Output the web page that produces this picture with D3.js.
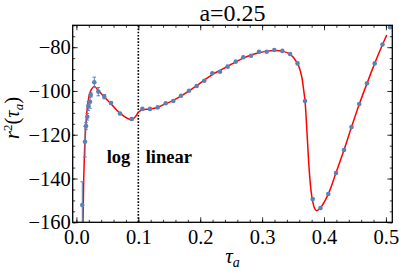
<!DOCTYPE html>
<html><head><meta charset="utf-8">
<script src="https://cdn.jsdelivr.net/npm/d3@7"></script>
<style>
body{margin:0;background:#fff}
svg{display:block}
</style>
</head><body>
<svg id="c" width="399" height="271"></svg>
<script>
// ---- data ----
const title = "a=0.25";
// log-region samples (with error bars)
const logTau = [0.0095, 0.0139, 0.0155, 0.0176, 0.0192, 0.0220, 0.0231, 0.0289, 0.0354, 0.0451, 0.0559, 0.0704, 0.0893];
const logR2  = [-152.1, -123.2, -116.0, -111.8, -106.9, -104.9, -101.8, -96.0, -100.3, -102.6, -105.5, -110.3, -112.8];
const logErr = [10.6, 7.0, 1.5, 1.5, 2.0, 3.0, 1.0, 2.3, 1.9, 1.0, 0.6, 0.5, 0.5];
// linear-region samples
const linTau = [0.1065,0.1189,0.1313,0.1443,0.1565,0.1690,0.1819,0.1943,0.2066,0.2195,0.2320,0.2444,0.2574,0.2696,0.2821,0.2950,0.3074,0.3197,0.3326,0.3451,0.3572,0.3693,0.3817,0.3943,0.4069,0.4194,0.4323,0.4444,0.4569,0.4695,0.4819,0.4945,0.5066];
const linR2  = [-108.2,-108.2,-107.5,-105.6,-104.6,-102.2,-99.9,-97.7,-95.3,-91.9,-91.2,-88.9,-86.6,-84.6,-83.9,-82.1,-82.1,-81.3,-81.7,-83.1,-87.4,-104.6,-149.4,-153.5,-147.1,-137.5,-127.0,-116.5,-106.0,-96.5,-87.4,-78.8,-70.9];
// fitted curve (red), log part and linear part
const fitLogTau = [0.0105, 0.0118, 0.0131, 0.0144, 0.0166, 0.0187, 0.0225, 0.0289, 0.0354, 0.0451, 0.0559, 0.0704, 0.0893, 0.1003];
const fitLogR2  = [-163, -140, -127.5, -120, -110.5, -105.2, -100.3, -98.0, -99.8, -102.8, -105.9, -110.2, -113.1, -109.6];
const fitLinTau = [0.1003,0.1065,0.1189,0.1313,0.1443,0.1565,0.1690,0.1819,0.1943,0.2066,0.2195,0.2320,0.2444,0.2574,0.2696,0.2821,0.2950,0.3074,0.3197,0.3326,0.3451,0.3572,0.3640,0.3666,0.3693,0.3721,0.3758,0.3790,0.3817,0.3850,0.3882,0.3943,0.4069,0.4194,0.4323,0.4444,0.4569,0.4695,0.4819,0.4945,0.5013];
const fitLinR2  = [-109.6,-108.6,-108.2,-107.4,-105.8,-104.3,-102.3,-100.0,-97.6,-95.0,-92.5,-90.6,-88.7,-86.7,-85.0,-83.6,-82.5,-81.8,-81.5,-81.8,-83.2,-87.4,-93.5,-98.5,-104.6,-117,-135,-145.5,-150.5,-153.8,-154.7,-153.3,-147.1,-137.3,-127.0,-116.5,-106.1,-96.5,-87.4,-78.8,-74.4];
const divider = 0.1;
const xMajor = [0, 0.1, 0.2, 0.3, 0.4, 0.5];
const xMajorLabels = ["0.0","0.1","0.2","0.3","0.4","0.5"];
const xMinor = d3.range(0, 0.511, 0.02);
const yMajor = [-160, -140, -120, -100, -80];
const yMinor = d3.range(-160, -69, 5);

// ---- layout ----
const FONT = "'Liberation Serif','Times New Roman',Times,serif";
const L = 72.7, R = 392.3, T = 25.3, B = 222.3;
const svg = d3.select("#c");
const x = d3.scaleLinear().domain([-0.006, 0.5103]).range([L, R]);
const y = d3.scaleLinear().domain([-160, -70]).range([B, T]);

svg.append("defs").append("clipPath").attr("id","clip")
  .append("rect").attr("x",L).attr("y",T).attr("width",R-L).attr("height",B-T);

const minus = v => (v<0? "\u2212" : "") + Math.abs(v);

function axisG(axis, tx, ty){
  const g = svg.append("g").attr("transform",`translate(${tx},${ty})`).call(axis);
  g.select(".domain").remove();
  g.selectAll(".tick line").attr("stroke","#000").attr("stroke-width",0.8);
  return g;
}
// bottom
const gb = axisG(d3.axisBottom(x).tickValues(xMajor).tickSize(-5).tickPadding(7)
  .tickFormat((d,i)=>xMajorLabels[i]), 0, B);
gb.selectAll("text").attr("font-size",20.5);
axisG(d3.axisBottom(x).tickValues(xMinor).tickSize(-2.5).tickFormat(""), 0, B);
// top
axisG(d3.axisTop(x).tickValues(xMajor).tickSize(-5).tickFormat(""), 0, T);
axisG(d3.axisTop(x).tickValues(xMinor).tickSize(-2.5).tickFormat(""), 0, T);
// left
const gl = axisG(d3.axisLeft(y).tickValues(yMajor).tickSize(-5).tickPadding(2).tickFormat(minus), L, 0);
gl.selectAll("text").attr("font-size",20.5);
axisG(d3.axisLeft(y).tickValues(yMinor).tickSize(-2.5).tickFormat(""), L, 0);
// right
axisG(d3.axisRight(y).tickValues(yMajor).tickSize(-5).tickFormat(""), R, 0);
axisG(d3.axisRight(y).tickValues(yMinor).tickSize(-2.5).tickFormat(""), R, 0);

// divider
svg.append("line").attr("x1",x(divider)).attr("x2",x(divider)).attr("y1",T).attr("y2",B)
  .attr("stroke","#000").attr("stroke-width",1.6).attr("stroke-dasharray","1.6,1.6");

const plot = svg.append("g").attr("clip-path","url(#clip)");
const line = d3.line().x(d=>x(d[0])).y(d=>y(d[1])).curve(d3.curveCatmullRom.alpha(0.5));
plot.append("path").datum(d3.zip(fitLogTau, fitLogR2)).attr("d", line)
  .attr("fill","none").attr("stroke","#ff0000").attr("stroke-width",1.5);
plot.append("path").datum(d3.zip(fitLinTau, fitLinR2)).attr("d", line)
  .attr("fill","none").attr("stroke","#ff0000").attr("stroke-width",1.5);

const blue = "#5e81b5";
const logPts = d3.zip(logTau, logR2, logErr);
const eb = plot.append("g").attr("stroke",blue).attr("stroke-width",1);
logPts.forEach(([t,v,e])=>{
  const cx = x(t), y1 = y(v+e), y2 = y(v-e);
  eb.append("line").attr("x1",cx).attr("x2",cx).attr("y1",y1).attr("y2",y2);
  eb.append("line").attr("x1",cx-1.8).attr("x2",cx+1.8).attr("y1",y1).attr("y2",y1);
  eb.append("line").attr("x1",cx-1.8).attr("x2",cx+1.8).attr("y1",y2).attr("y2",y2);
});
plot.append("g").selectAll("circle").data(logPts.concat(d3.zip(linTau, linR2))).join("circle")
  .attr("cx",d=>x(d[0])).attr("cy",d=>y(d[1])).attr("r",2.3).attr("fill",blue);

// frame
svg.append("rect").attr("x",L).attr("y",T).attr("width",R-L).attr("height",B-T)
  .attr("fill","none").attr("stroke","#000").attr("stroke-width",1.3);

// texts
svg.append("text").attr("x",(L+R)/2).attr("y",21).attr("text-anchor","middle")
  .attr("font-size",24).text(title);
svg.append("text").attr("x",x(0.087)).attr("y",162.5).attr("text-anchor","end")
  .attr("font-size",18.5).attr("font-weight","bold").text("log");
svg.append("text").attr("x",x(0.112)).attr("y",162.5).attr("text-anchor","start")
  .attr("font-size",18.5).attr("font-weight","bold").text("linear");

const xl = svg.append("text").attr("x",(L+R)/2).attr("y",263).attr("text-anchor","middle").attr("font-size",21);
xl.append("tspan").attr("font-style","italic").text("τ");
xl.append("tspan").attr("font-style","italic").attr("font-size",14).attr("dy",4).text("a");

const yl = svg.append("text").attr("transform",`translate(19,118) rotate(-90)`)
  .attr("text-anchor","middle").attr("font-size",20.5);
yl.append("tspan").attr("font-style","italic").text("r");
yl.append("tspan").attr("font-size",13).attr("dy",-7).text("2");
yl.append("tspan").attr("dy",7).text("(");
yl.append("tspan").attr("font-style","italic").text("τ");
yl.append("tspan").attr("font-style","italic").attr("font-size",13).attr("dy",4).text("a");
yl.append("tspan").attr("dy",-4).text(")");

svg.selectAll("text").style("font-family", FONT).style("fill","#000");
</script>
</body></html>
